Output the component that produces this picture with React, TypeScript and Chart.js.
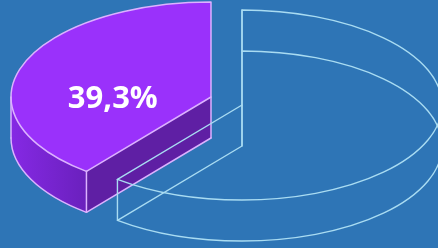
import { useEffect, useRef } from "react";
import { Chart, registerables } from "chart.js";

Chart.register(...registerables);

// ---- data ----
const categories = ["Resto", "Segmento"];
const values = [60.7, 39.3];
const highlightIndex = 1;

// ---- layout / style ----
const W = 438;
const H = 248;
const CX = 242;
const CY = 105;
const RX = 200;
const RY = 95;
const DEPTH = 41;
const EXPLODE_DX = -31;
const EXPLODE_DY = -8;
const BG = "#2e75b6";
const TOP_PURPLE = "#9a31fb";
const WALL_A = "#8529e4";
const WALL_B = "#6a20bd";
const CUT = "#5f1fa4";
const PURPLE_LINE = "#dcb2ff";
const WIRE_LINE = "#a9dcf2";

function fmt(v: number) {
  return v.toFixed(1).replace(".", ",") + "%";
}

export default function App() {
  const ref = useRef<HTMLCanvasElement>(null);

  useEffect(() => {
    document.body.style.margin = "0";
    const canvas = ref.current!;

    const begin = (ctx: CanvasRenderingContext2D, arc: any, ox: number, oy: number) => {
      ctx.save();
      ctx.translate(ox, oy);
      ctx.scale(RX / arc.outerRadius, RY / arc.outerRadius);
      ctx.translate(-arc.x, -arc.y);
    };
    const pt = (ox: number, oy: number, a: number) => ({
      x: ox + Math.cos(a) * RX,
      y: oy + Math.sin(a) * RY,
    });
    const line = (ctx: CanvasRenderingContext2D, p: { x: number; y: number }, q: { x: number; y: number }) => {
      ctx.beginPath();
      ctx.moveTo(p.x, p.y);
      ctx.lineTo(q.x, q.y);
      ctx.stroke();
    };
    const slicePath = (ctx: CanvasRenderingContext2D, arc: any, ox: number, oy: number) => {
      begin(ctx, arc, ox, oy);
      ctx.beginPath();
      ctx.moveTo(arc.x, arc.y);
      ctx.arc(arc.x, arc.y, arc.outerRadius, arc.startAngle, arc.endAngle);
      ctx.closePath();
      ctx.restore();
    };

    const plugin = {
      id: "pie3d",
      beforeDraw(chart: any) {
        const ctx = chart.ctx as CanvasRenderingContext2D;
        ctx.save();
        ctx.fillStyle = BG;
        ctx.fillRect(0, 0, chart.width, chart.height);
        ctx.restore();
      },
      beforeDatasetsDraw(chart: any) {
        const ctx = chart.ctx as CanvasRenderingContext2D;
        const meta = chart.getDatasetMeta(0);
        const slice = meta.data[highlightIndex] as any;
        const wire = meta.data[1 - highlightIndex] as any;
        ctx.save();
        ctx.lineJoin = "round";
        ctx.lineCap = "round";

        // ---- highlighted (solid) slice ----
        const pox = CX + EXPLODE_DX;
        const poy = CY + EXPLODE_DY;
        const s = slice.startAngle;
        const e = slice.endAngle;
        const grad = ctx.createLinearGradient(pox - RX, 0, pt(pox, poy, s).x, 0);
        grad.addColorStop(0, WALL_A);
        grad.addColorStop(1, WALL_B);
        for (let d = DEPTH; d >= 1; d--) {
          slicePath(ctx, slice, pox, poy + d);
          ctx.fillStyle = grad;
          ctx.fill();
        }
        // cut face
        const cTop = { x: pox, y: poy };
        const cBot = { x: pox, y: poy + DEPTH };
        const rTop = pt(pox, poy, s);
        const rBot = pt(pox, poy + DEPTH, s);
        ctx.beginPath();
        ctx.moveTo(cTop.x, cTop.y);
        ctx.lineTo(rTop.x, rTop.y);
        ctx.lineTo(rBot.x, rBot.y);
        ctx.lineTo(cBot.x, cBot.y);
        ctx.closePath();
        ctx.fillStyle = CUT;
        ctx.fill();
        // top face via the library's arc element
        begin(ctx, slice, pox, poy);
        slice.draw(ctx);
        ctx.restore();

        // outlines of solid slice
        ctx.strokeStyle = PURPLE_LINE;
        ctx.lineWidth = 1.5;
        slicePath(ctx, slice, pox, poy);
        ctx.stroke();
        begin(ctx, slice, pox, poy + DEPTH);
        ctx.beginPath();
        ctx.arc(slice.x, slice.y, slice.outerRadius, s, Math.max(s, Math.min(e, Math.PI)));
        ctx.restore();
        ctx.stroke();
        line(ctx, cBot, rBot);
        line(ctx, rTop, rBot);
        line(ctx, cTop, cBot);
        if (s < Math.PI && e > Math.PI) {
          line(ctx, pt(pox, poy, Math.PI), pt(pox, poy + DEPTH, Math.PI));
        }

        // ---- wireframe slice ----
        ctx.strokeStyle = WIRE_LINE;
        ctx.lineWidth = 1.4;
        slicePath(ctx, wire, CX, CY);
        ctx.stroke();
        slicePath(ctx, wire, CX, CY + DEPTH);
        ctx.stroke();
        line(ctx, { x: CX, y: CY }, { x: CX, y: CY + DEPTH });
        for (const a of [wire.startAngle, wire.endAngle, 0]) {
          line(ctx, pt(CX, CY, a), pt(CX, CY + DEPTH, a));
        }

        // ---- label ----
        const mid = (s + e) / 2;
        const lx = pox + Math.cos(mid) * RX * 0.52;
        const ly = poy + 11;
        ctx.fillStyle = "#ffffff";
        ctx.font = 'bold 31px "Open Sans", "DejaVu Sans", sans-serif';
        ctx.textAlign = "center";
        ctx.textBaseline = "alphabetic";
        ctx.fillText(fmt(values[highlightIndex]), lx, ly);

        ctx.restore();
        return false;
      },
    };

    const chart = new Chart(canvas, {
      type: "pie",
      data: {
        labels: categories,
        datasets: [
          {
            data: values,
            backgroundColor: ["rgba(0,0,0,0)", TOP_PURPLE],
            borderWidth: 0,
          },
        ],
      },
      options: {
        responsive: false,
        animation: false,
        events: [],
        plugins: { legend: { display: false }, tooltip: { enabled: false } },
      },
      plugins: [plugin as any],
    });
    return () => chart.destroy();
  }, []);

  return <canvas ref={ref} width={W} height={H} style={{ display: "block" }} />;
}
